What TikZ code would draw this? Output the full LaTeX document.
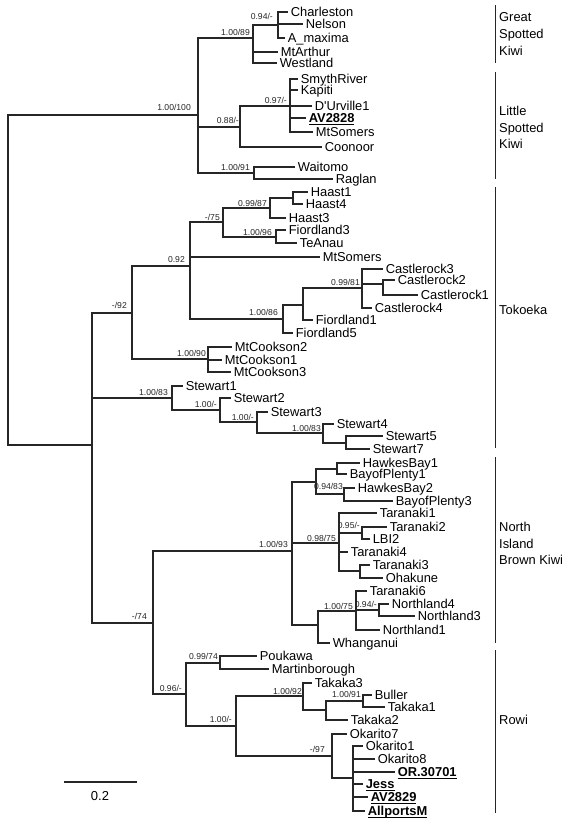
\documentclass[tikz,border=0pt]{standalone}
\usepackage{fontspec}
\setmainfont{Liberation Sans}[Ligatures=TeXOff]
\newcommand\uln[1]{{\setbox0\hbox{#1}\rlap{\rule[-2.4pt]{\wd0}{1.1pt}}\box0}}
\begin{document}
\begin{tikzpicture}[x=1pt,y=-1pt,
  br/.style={line width=1.1pt, draw=black!85},
  bar/.style={line width=1pt, draw=black!85},
  leaf/.style={anchor=west, inner xsep=2.6pt, inner ysep=0pt, text height=9pt, text depth=0pt, font=\fontsize{12.9}{15}\selectfont},
  supp/.style={anchor=base east, inner sep=0pt, font=\fontsize{8.6}{10}\selectfont, text=black!85},
  clade/.style={anchor=base west, inner sep=0pt, font=\fontsize{12.9}{15}\selectfont}]
\fill[white] (0,0) rectangle (570,822);
\useasboundingbox (0,0) rectangle (570,822);

% ---------- internal nodes ----------
\coordinate (root) at (8,280);
\coordinate (top) at (198,115);
\coordinate (gsk) at (253,38);
\coordinate (n094) at (278,25);
\coordinate (lsk) at (240,127);
\coordinate (n097) at (290,106);
\coordinate (wr) at (254,173);
\coordinate (low) at (92,445);
\coordinate (tok) at (132,313);
\coordinate (n092) at (190,266);
\coordinate (n075) at (223,222);
\coordinate (n0987) at (270,208);
\coordinate (haast) at (293,198);
\coordinate (n096) at (276,237);
\coordinate (n086) at (283,319);
\coordinate (n303) at (303,305);
\coordinate (n081) at (362,288);
\coordinate (cr21) at (383,284);
\coordinate (mtc) at (208,359);
\coordinate (st) at (172,398);
\coordinate (st2) at (220,410);
\coordinate (st3) at (257,422);
\coordinate (st4) at (323,433);
\coordinate (st57) at (346,443);
\coordinate (n074) at (153,623);
\coordinate (nibk) at (292,551);
\coordinate (hb) at (316,482);
\coordinate (hb1) at (337,469);
\coordinate (n0983) at (344,494);
\coordinate (tar) at (339,543);
\coordinate (n095) at (362,533);
\coordinate (t3o) at (360,571);
\coordinate (nl) at (318,625);
\coordinate (n1075) at (356,611);
\coordinate (n094b) at (379,610);
\coordinate (rowi) at (186,694);
\coordinate (pm) at (220,663);
\coordinate (n100r) at (236,726);
\coordinate (tak) at (303,696);
\coordinate (tak2) at (326,710);
\coordinate (bt) at (363,701);
\coordinate (oka) at (332,756);
\coordinate (poly) at (353,778);

% ---------- leaves ----------
\node[leaf] (charleston) at (288,12) {Charleston};
\node[leaf] (nelson) at (303,24) {Nelson};
\node[leaf] (amaxima) at (285,38) {A\_maxima};
\node[leaf] (mtarthur) at (278,52) {MtArthur};
\node[leaf] (westland) at (277,63) {Westland};
\node[leaf] (smyth) at (298,79) {SmythRiver};
\node[leaf] (kapiti) at (298,90) {Kapiti};
\node[leaf] (durville) at (312,106) {D'Urville1};
\node[leaf] (avtwo) at (306,118) {\uln{\textbf{AV2828}}};
\node[leaf] (mtsomersA) at (313,132) {MtSomers};
\node[leaf] (coonoor) at (322,147) {Coonoor};
\node[leaf] (waitomo) at (295,167) {Waitomo};
\node[leaf] (raglan) at (333,179) {Raglan};
\node[leaf] (haastone) at (308,192) {Haast1};
\node[leaf] (haastfour) at (303,204) {Haast4};
\node[leaf] (haastthree) at (286,218) {Haast3};
\node[leaf] (fiordthree) at (286,230) {Fiordland3};
\node[leaf] (teanau) at (297,243) {TeAnau};
\node[leaf] (mtsomersB) at (320,257) {MtSomers};
\node[leaf] (crthree) at (383,269) {Castlerock3};
\node[leaf] (crtwo) at (395,280) {Castlerock2};
\node[leaf] (crone) at (418,295) {Castlerock1};
\node[leaf] (crfour) at (372,308) {Castlerock4};
\node[leaf] (fiordone) at (313,320) {Fiordland1};
\node[leaf] (fiordfive) at (293,333) {Fiordland5};
\node[leaf] (mtctwo) at (232,347) {MtCookson2};
\node[leaf] (mtcone) at (222,360) {MtCookson1};
\node[leaf] (mtcthree) at (231,372) {MtCookson3};
\node[leaf] (stone) at (183,386) {Stewart1};
\node[leaf] (sttwo) at (231,398) {Stewart2};
\node[leaf] (stthree) at (268,412) {Stewart3};
\node[leaf] (stfour) at (334,424) {Stewart4};
\node[leaf] (stfive) at (383,436) {Stewart5};
\node[leaf] (stseven) at (370,449) {Stewart7};
\node[leaf] (hbone) at (360,463) {HawkesBay1};
\node[leaf] (bopone) at (347,474) {BayofPlenty1};
\node[leaf] (hbtwo) at (355,488) {HawkesBay2};
\node[leaf] (bopthree) at (393,501) {BayofPlenty3};
\node[leaf] (tarone) at (377,513) {Taranaki1};
\node[leaf] (tartwo) at (387,527) {Taranaki2};
\node[leaf] (lbi) at (370,539) {LBI2};
\node[leaf] (tarfour) at (348,552) {Taranaki4};
\node[leaf] (tarthree) at (370,565) {Taranaki3};
\node[leaf] (ohakune) at (383,578) {Ohakune};
\node[leaf] (tarsix) at (367,591) {Taranaki6};
\node[leaf] (nlfour) at (389,604) {Northland4};
\node[leaf] (nlthree) at (415,616) {Northland3};
\node[leaf] (nlone) at (380,630) {Northland1};
\node[leaf] (whanganui) at (330,643) {Whanganui};
\node[leaf] (poukawa) at (257,656) {Poukawa};
\node[leaf] (martin) at (269,669) {Martinborough};
\node[leaf] (takthree) at (312,683) {Takaka3};
\node[leaf] (buller) at (372,695) {Buller};
\node[leaf] (takone) at (385,707) {Takaka1};
\node[leaf] (taktwo) at (348,720) {Takaka2};
\node[leaf] (okseven) at (347,734) {Okarito7};
\node[leaf] (okone) at (363,746) {Okarito1};
\node[leaf] (okeight) at (375,759) {Okarito8};
\node[leaf] (orno) at (395,772) {\uln{\textbf{OR.30701}}};
\node[leaf] (jess) at (363,784) {\uln{\textbf{Jess}}};
\node[leaf] (avtwonine) at (368,797) {\uln{\textbf{AV2829}}};
\node[leaf] (allports) at (365,811) {\uln{\textbf{AllportsM}}};

% ---------- branches ----------
\draw[br] (root) |- (top);
\draw[br] (root) |- (low);
\draw[br] (top) |- (gsk);
\draw[br] (top) |- (lsk);
\draw[br] (top) |- (wr);
\draw[br] (gsk) |- (n094);
\draw[br] (n094) |- (charleston.west);
\draw[br] (n094) |- (nelson.west);
\draw[br] (n094) |- (amaxima.west);
\draw[br] (gsk) |- (mtarthur.west);
\draw[br] (gsk) |- (westland.west);
\draw[br] (lsk) |- (n097);
\draw[br] (n097) |- (smyth.west);
\draw[br] (n097) |- (kapiti.west);
\draw[br] (n097) |- (durville.west);
\draw[br] (n097) |- (avtwo.west);
\draw[br] (n097) |- (mtsomersA.west);
\draw[br] (lsk) |- (coonoor.west);
\draw[br] (wr) |- (waitomo.west);
\draw[br] (wr) |- (raglan.west);

\draw[br] (low) |- (tok);
\draw[br] (low) |- (st);
\draw[br] (low) |- (n074);
\draw[br] (tok) |- (n092);
\draw[br] (tok) |- (mtc);
\draw[br] (n092) |- (n075);
\draw[br] (n092) |- (mtsomersB.west);
\draw[br] (n092) |- (n086);
\draw[br] (n075) |- (n0987);
\draw[br] (n075) |- (n096);
\draw[br] (n0987) |- (haast);
\draw[br] (haast) |- (haastone.west);
\draw[br] (haast) |- (haastfour.west);
\draw[br] (n0987) |- (haastthree.west);
\draw[br] (n096) |- (fiordthree.west);
\draw[br] (n096) |- (teanau.west);
\draw[br] (n086) |- (n303);
\draw[br] (n086) |- (fiordfive.west);
\draw[br] (n303) |- (n081);
\draw[br] (n303) |- (fiordone.west);
\draw[br] (n081) |- (crthree.west);
\draw[br] (n081) |- (cr21);
\draw[br] (n081) |- (crfour.west);
\draw[br] (cr21) |- (crtwo.west);
\draw[br] (cr21) |- (crone.west);
\draw[br] (mtc) |- (mtctwo.west);
\draw[br] (mtc) |- (mtcone.west);
\draw[br] (mtc) |- (mtcthree.west);
\draw[br] (st) |- (stone.west);
\draw[br] (st) |- (st2);
\draw[br] (st2) |- (sttwo.west);
\draw[br] (st2) |- (st3);
\draw[br] (st3) |- (stthree.west);
\draw[br] (st3) |- (st4);
\draw[br] (st4) |- (stfour.west);
\draw[br] (st4) |- (st57);
\draw[br] (st57) |- (stfive.west);
\draw[br] (st57) |- (stseven.west);

\draw[br] (n074) |- (nibk);
\draw[br] (n074) |- (rowi);
\draw[br] (nibk) |- (hb);
\draw[br] (nibk) |- (tar);
\draw[br] (nibk) |- (nl);
\draw[br] (hb) |- (hb1);
\draw[br] (hb) |- (n0983);
\draw[br] (hb1) |- (hbone.west);
\draw[br] (hb1) |- (bopone.west);
\draw[br] (n0983) |- (hbtwo.west);
\draw[br] (n0983) |- (bopthree.west);
\draw[br] (tar) |- (tarone.west);
\draw[br] (tar) |- (n095);
\draw[br] (tar) |- (tarfour.west);
\draw[br] (tar) |- (t3o);
\draw[br] (n095) |- (tartwo.west);
\draw[br] (n095) |- (lbi.west);
\draw[br] (t3o) |- (tarthree.west);
\draw[br] (t3o) |- (ohakune.west);
\draw[br] (nl) |- (n1075);
\draw[br] (nl) |- (whanganui.west);
\draw[br] (n1075) |- (tarsix.west);
\draw[br] (n1075) |- (n094b);
\draw[br] (n1075) |- (nlone.west);
\draw[br] (n094b) |- (nlfour.west);
\draw[br] (n094b) |- (nlthree.west);

\draw[br] (rowi) |- (pm);
\draw[br] (rowi) |- (n100r);
\draw[br] (pm) |- (poukawa.west);
\draw[br] (pm) |- (martin.west);
\draw[br] (n100r) |- (tak);
\draw[br] (n100r) |- (oka);
\draw[br] (tak) |- (takthree.west);
\draw[br] (tak) |- (tak2);
\draw[br] (tak2) |- (bt);
\draw[br] (tak2) |- (taktwo.west);
\draw[br] (bt) |- (buller.west);
\draw[br] (bt) |- (takone.west);
\draw[br] (oka) |- (okseven.west);
\draw[br] (oka) |- (poly);
\draw[br] (poly) |- (okone.west);
\draw[br] (poly) |- (okeight.west);
\draw[br] (poly) |- (orno.west);
\draw[br] (poly) |- (jess.west);
\draw[br] (poly) |- (avtwonine.west);
\draw[br] (poly) |- (allports.west);

% ---------- support values ----------
\node[supp] (s01) at (191,110) {1.00/100};
\node[supp] (s02) at (250,35) {1.00/89};
\node[supp] (s03) at (273,19) {0.94/-};
\node[supp] (s04) at (239,123) {0.88/-};
\node[supp] (s05) at (287,103) {0.97/-};
\node[supp] (s06) at (250,170) {1.00/91};
\node[supp] (s07) at (220,220) {-/75};
\node[supp] (s08) at (267,206) {0.99/87};
\node[supp] (s09) at (272,235) {1.00/96};
\node[supp] (s10) at (185,262) {0.92};
\node[supp] (s11) at (360,285) {0.99/81};
\node[supp] (s12) at (278,315) {1.00/86};
\node[supp] (s13) at (127,308) {-/92};
\node[supp] (s14) at (206,356) {1.00/90};
\node[supp] (s15) at (168,395) {1.00/83};
\node[supp] (s16) at (217,407) {1.00/-};
\node[supp] (s17) at (254,420) {1.00/-};
\node[supp] (s18) at (321,431) {1.00/83};
\node[supp] (s19) at (147,619) {-/74};
\node[supp] (s20) at (288,547) {1.00/93};
\node[supp] (s21) at (343,489) {0.94/83};
\node[supp] (s22) at (336,541) {0.98/75};
\node[supp] (s23) at (360,528) {0.95/-};
\node[supp] (s24) at (353,609) {1.00/75};
\node[supp] (s25) at (377,607) {0.94/-};
\node[supp] (s26) at (218,659) {0.99/74};
\node[supp] (s27) at (182,691) {0.96/-};
\node[supp] (s28) at (232,722) {1.00/-};
\node[supp] (s29) at (302,694) {1.00/92};
\node[supp] (s30) at (361,697) {1.00/91};
\node[supp] (s31) at (325,752) {-/97};

% ---------- clade bars ----------
\coordinate (ga) at (495,5);   \coordinate (gb) at (495,63);
\coordinate (la) at (495,72);  \coordinate (lb) at (495,179);
\coordinate (ta) at (495,187); \coordinate (tb) at (495,448);
\coordinate (na) at (495,457); \coordinate (nb) at (495,643);
\coordinate (ra) at (495,650); \coordinate (rb) at (495,813);
\draw[bar] (ga) -- (gb);
\draw[bar] (la) -- (lb);
\draw[bar] (ta) -- (tb);
\draw[bar] (na) -- (nb);
\draw[bar] (ra) -- (rb);
\node[clade] (c1) at (499,21.5) {Great};
\node[clade] (c2) at (499,38.5) {Spotted};
\node[clade] (c3) at (499,55.5) {Kiwi};
\node[clade] (c4) at (499,115.5) {Little};
\node[clade] (c5) at (499,132.5) {Spotted};
\node[clade] (c6) at (499,148.5) {Kiwi};
\node[clade] (c7) at (499,314.5) {Tokoeka};
\node[clade] (c8) at (499,531.5) {North};
\node[clade] (c9) at (499,548.5) {Island};
\node[clade] (c10) at (499,564.5) {Brown Kiwi};
\node[clade] (c11) at (499,724.5) {Rowi};

% ---------- scale bar ----------
\coordinate (sba) at (64,782);
\coordinate (sbb) at (137,782);
\draw[br] (sba) -- (sbb);
\node[inner sep=0pt, font=\fontsize{13}{15}\selectfont] (sbl) at (100,796) {0.2};
\end{tikzpicture}
\end{document}
